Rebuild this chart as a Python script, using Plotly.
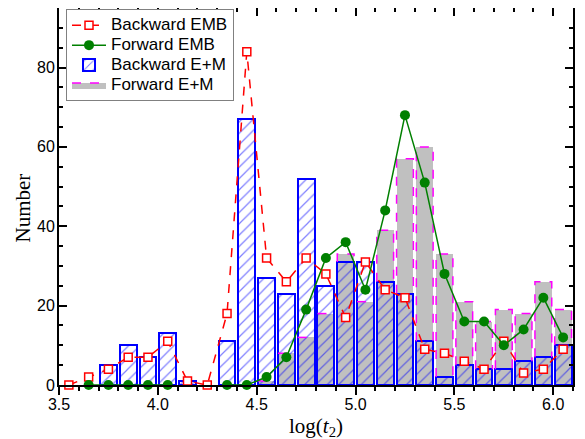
import plotly.graph_objects as go

# ---- data ----
bin_centers = [3.55, 3.65, 3.75, 3.85, 3.95, 4.05, 4.15, 4.25, 4.35, 4.45, 4.55, 4.65, 4.75,
               4.85, 4.95, 5.05, 5.15, 5.25, 5.35, 5.45, 5.55, 5.65, 5.75, 5.85, 5.95, 6.05]
backward_em = [0, 0, 5, 10, 7, 13, 1, 0, 11, 67, 27, 23, 52, 25, 31, 31, 26, 23, 11, 2, 5, 4, 4, 6, 7, 10]
forward_em = [0, 0, 0, 0, 0, 0, 0, 0, 0, 0, 1, 8, 12, 18, 33, 21, 39, 57, 60, 33, 21, 16, 19, 18, 26, 19]
backward_emb = [0, 2, 4, 7, 7, 11, 1, 0, 18, 84, 32, 26, 32, 28, 17, 31, 24, 22, 9, 8, 6, 4, 11, 3, 4, 9]
forward_emb = [None, 0, 0, 0, 0, 0, None, None, 0, 0, 2, 7, 19, 32, 36, 24, 44, 68, 51, 28, 16, 16, 10, 14, 22, 12]

x_tick_vals = [3.5, 4.0, 4.5, 5.0, 5.5, 6.0]
x_tick_text = ["3.5", "4.0", "4.5", "5.0", "5.5", "6.0"]
y_tick_vals = [0, 20, 40, 60, 80]

BAR_W = 0.085
half = BAR_W / 2

RED = "#FF0000"
GREEN = "#008000"
BLUE = "#0000FF"
MAGENTA = "#FF00FF"
GRAY = "#C0C0C0"


def lg(name):
    return '<span style="font-size:17px">' + name + '</span>'


# dashed outline for forward E+M bars (parts not hidden by the blue bars)
ox, oy = [], []
for c, g, b in zip(bin_centers, forward_em, backward_em):
    if g <= 0:
        continue
    if g > b:
        ox += [c - half, c - half, c + half, c + half, None]
        oy += [b, g, g, b, None]
    else:
        ox += [c - half, c + half, None]
        oy += [g, g, None]

fig = go.Figure()

fig.add_trace(go.Bar(
    x=bin_centers, y=forward_em, width=BAR_W, name="Forward E+M",
    marker=dict(color=GRAY, line=dict(width=0)),
    showlegend=False, legendgroup="fem"))

fig.add_trace(go.Bar(
    x=bin_centers, y=[v if v > 0 else None for v in backward_em], width=BAR_W,
    name=lg("Backward E+M"),
    marker=dict(color="rgba(0,0,0,0)",
                line=dict(color=BLUE, width=2),
                pattern=dict(shape="/", fgcolor=BLUE, bgcolor="rgba(0,0,0,0)",
                             size=8, solidity=0.15)),
    legendrank=3))

fig.add_trace(go.Scatter(
    x=ox, y=oy, mode="lines", line=dict(color=MAGENTA, width=1.5, dash="dash"),
    showlegend=False, legendgroup="fem", hoverinfo="skip"))

fig.add_trace(go.Scatter(
    x=bin_centers, y=backward_emb, mode="lines+markers", name=lg("Backward EMB"),
    line=dict(color=RED, width=1.5, dash="dash"),
    marker=dict(symbol="square", size=8, color="white", line=dict(color=RED, width=1.5)),
    cliponaxis=False, legendrank=1))

fig.add_trace(go.Scatter(
    x=bin_centers, y=forward_emb, mode="lines+markers", name=lg("Forward EMB"),
    line=dict(color=GREEN, width=1.5),
    marker=dict(symbol="circle", size=10, color=GREEN),
    cliponaxis=False, legendrank=2))

# legend entry for Forward E+M (gray box with magenta dashed outline)
fig.add_trace(go.Scatter(
    x=[None], y=[None], mode="lines", fill="toself", fillcolor=GRAY,
    line=dict(color=MAGENTA, width=1.5, dash="dash"),
    name=lg("Forward E+M"), legendgroup="fem", legendrank=4))

# empty trace for top mirrored axis
fig.add_trace(go.Scatter(x=[None], y=[None], xaxis="x2", showlegend=False, hoverinfo="skip"))

tick_font = dict(family="Liberation Sans, Arial", size=16, color="black")
title_font = dict(family="Liberation Serif, Times New Roman", size=21, color="black")

# page has an 8px body margin; figure sized so it fits the 585x439 window
W, H = 577, 431
L, R, T, B = 51, 12, 0, 54
pw, ph = W - L - R, H - T - B

fig.update_layout(
    width=W, height=H,
    margin=dict(l=L, r=R, t=T, b=B, autoexpand=False),
    paper_bgcolor="white", plot_bgcolor="white",
    barmode="overlay",
    bargap=0,
    xaxis=dict(
        range=[3.5, 6.1], tickmode="array", tickvals=x_tick_vals, ticktext=x_tick_text,
        ticks="outside", ticklen=8, tickwidth=1.5, tickcolor="black",
        minor=dict(dtick=0.1, tick0=3.5, ticks="outside", ticklen=4, tickwidth=1.5, tickcolor="black"),
        showline=True, linecolor="black", linewidth=2, mirror=True,
        showgrid=False, zeroline=False, tickfont=tick_font, automargin=False,
        ticklabelstandoff=-4,
    ),
    xaxis2=dict(
        overlaying="x", side="top", range=[3.5, 6.1],
        tickmode="array", tickvals=x_tick_vals, showticklabels=False,
        ticks="inside", ticklen=8, tickwidth=1.5, tickcolor="black",
        minor=dict(dtick=0.1, tick0=3.5, ticks="inside", ticklen=4, tickwidth=1.5, tickcolor="black"),
        showline=True, linecolor="black", linewidth=2,
        showgrid=False, zeroline=False, automargin=False,
    ),
    yaxis=dict(
        range=[0, 95], tickmode="array", tickvals=y_tick_vals,
        ticks="inside", ticklen=8, tickwidth=1.5, tickcolor="black",
        minor=dict(dtick=5, tick0=0, ticks="inside", ticklen=4, tickwidth=1.5, tickcolor="black"),
        showline=True, linecolor="black", linewidth=2, mirror="ticks",
        showgrid=False, zeroline=False, tickfont=tick_font, automargin=False,
        ticklabelstandoff=-1,
    ),
    legend=dict(
        x=(58 - L) / pw, y=1 - 1.3 / ph, xanchor="left", yanchor="top",
        bgcolor="white", bordercolor="#808080", borderwidth=1,
        font=dict(family="Liberation Sans, Arial", size=13, color="black"),
        itemwidth=34, tracegroupgap=0,
    ),
    annotations=[
        dict(text="log(<i>t</i><sub>2</sub>)", xref="paper", yref="paper",
             x=0.5, y=-(419 - ph) / ph, xanchor="center", yanchor="middle",
             showarrow=False, font=title_font),
        dict(text="Number", xref="paper", yref="paper", textangle=-90,
             x=(14.5 - L) / pw, y=(ph - 200) / ph, xanchor="center", yanchor="middle",
             showarrow=False, font=title_font),
    ],
)

fig.write_html("out.html")
